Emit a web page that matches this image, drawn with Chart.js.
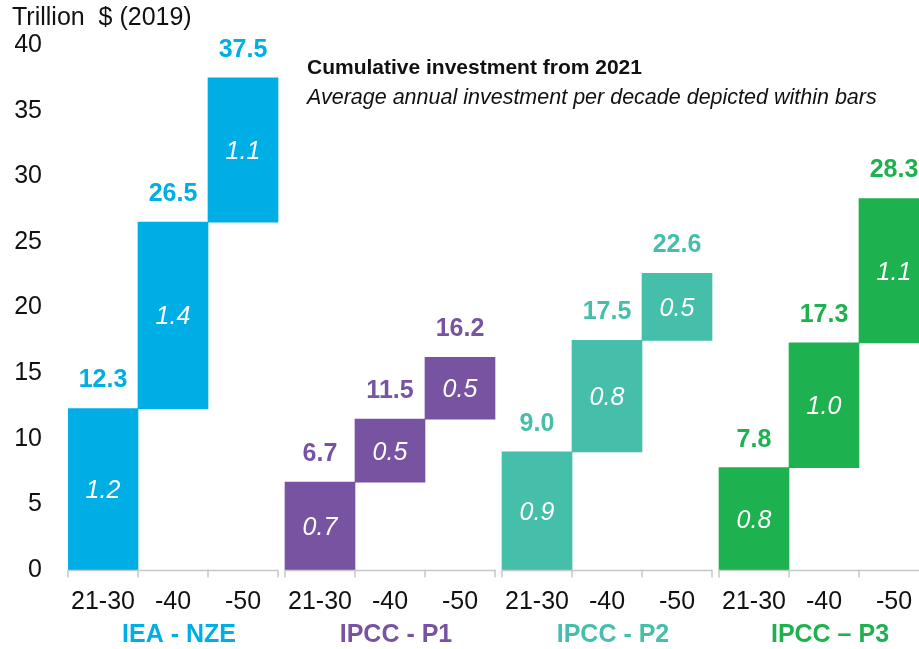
<!DOCTYPE html>
<html lang="en">
<head>
<meta charset="UTF-8">
<title>Cumulative investment from 2021</title>
<script src="https://cdn.jsdelivr.net/npm/chart.js"></script>
<style>
  body { margin: 0; background: #fff; }
  #wrap { width: 919px; height: 649px; position: relative; }
</style>
</head>
<body>
<div id="wrap"><canvas id="grafico"></canvas></div>
<script>
// data
const decadas = ['21-30', '-40', '-50'];
const grupos = ['IEA - NZE', 'IPCC - P1', 'IPCC - P2', 'IPCC \u2013 P3'];
const coresGrupo = ['#00AEE6', '#7853A2', '#45BFAA', '#1EB14F'];

// cumulative investment (trillion $ 2019), end of each decade
const ieaNze = [12.3, 26.5, 37.5];
const ipccP1 = [6.7, 11.5, 16.2];
const ipccP2 = [9.0, 17.5, 22.6];
const ipccP3 = [7.8, 17.3, 28.3];

// average annual investment per decade (inside bars)
const anualIea = [1.2, 1.4, 1.1];
const anualP1 = [0.7, 0.5, 0.5];
const anualP2 = [0.9, 0.8, 0.5];
const anualP3 = [0.8, 1.0, 1.1];

const yMin = 0, yMax = 40, yPasso = 5;

const acumulados = [ieaNze, ipccP1, ipccP2, ipccP3];
const anuais = [anualIea, anualP1, anualP2, anualP3];

// layout: one unit = one bar, small gap between groups
const GAP = 0.1;
const FONTE = "'Liberation Sans', Arial, sans-serif";

let pontos = [];
let cores = [];
let rotulosBarra = [];
let centros = [];
for (let g = 0; g < acumulados.length; g++) {
  let anterior = 0;
  for (let i = 0; i < acumulados[g].length; i++) {
    const xc = g * (3 + GAP) + i + 0.5;
    pontos.push({ x: xc, y: [anterior, acumulados[g][i]] });
    cores.push(coresGrupo[g]);
    rotulosBarra.push({ topo: acumulados[g][i].toFixed(1), dentro: anuais[g][i].toFixed(1), cor: coresGrupo[g] });
    centros.push(xc);
    anterior = acumulados[g][i];
  }
}

// textos, eixo segmentado e nomes dos grupos
const desenhos = {
  id: 'desenhos',
  afterDatasetsDraw(chart) {
    const ctx = chart.ctx;
    const xs = chart.scales.x;
    const area = chart.chartArea;
    const barras = chart.getDatasetMeta(0).data;
    ctx.save();
    ctx.textAlign = 'center';
    ctx.textBaseline = 'middle';
    barras.forEach(function (b, k) {
      const r = rotulosBarra[k];
      ctx.fillStyle = r.cor;
      ctx.font = 'bold 25px ' + FONTE;
      ctx.fillText(r.topo, b.x, b.y - 28);
      ctx.fillStyle = '#ffffff';
      ctx.font = 'italic 25px ' + FONTE;
      ctx.fillText(r.dentro, b.x, (b.y + b.base) / 2 + 2);
    });

    // eixo x em segmentos
    ctx.strokeStyle = '#C8C8C8';
    ctx.lineWidth = 1.5;
    const yEixo = area.bottom + 0.5;
    for (let g = 0; g < grupos.length; g++) {
      const x0 = xs.getPixelForValue(g * (3 + GAP));
      const x1 = Math.min(xs.getPixelForValue(g * (3 + GAP) + 3), chart.width);
      ctx.beginPath();
      ctx.moveTo(x0, yEixo);
      ctx.lineTo(x1, yEixo);
      for (let i = 0; i <= 3; i++) {
        const xt = xs.getPixelForValue(g * (3 + GAP) + i);
        if (xt > chart.width) continue;
        ctx.moveTo(xt, yEixo - 1);
        ctx.lineTo(xt, yEixo + 7);
      }
      ctx.stroke();

      ctx.fillStyle = coresGrupo[g];
      ctx.font = 'bold 25px ' + FONTE;
      ctx.fillText(grupos[g], xs.getPixelForValue(g * (3 + GAP) + 1.5) + 6, 635);
    }

    // titulo do eixo e anotacao
    ctx.textAlign = 'left';
    ctx.fillStyle = '#111111';
    ctx.font = '25px ' + FONTE;
    ctx.fillText('Trillion  $ (2019)', 12, 18);
    ctx.font = 'bold 21px ' + FONTE;
    ctx.fillText('Cumulative investment from 2021', 307, 68);
    ctx.font = 'italic 21.5px ' + FONTE;
    ctx.fillText('Average annual investment per decade depicted within bars', 307, 98);
    ctx.restore();
  }
};

const config = {
  type: 'bar',
  data: {
    datasets: [{
      data: pontos,
      backgroundColor: cores,
      borderWidth: 0,
      barPercentage: 1,
      categoryPercentage: 1
    }]
  },
  options: {
    responsive: true,
    maintainAspectRatio: false,
    animation: false,
    layout: { padding: { top: 45, left: 15, right: 0, bottom: 0 } },
    plugins: {
      legend: { display: false },
      tooltip: { enabled: false }
    },
    scales: {
      x: {
        type: 'linear',
        offset: false,
        min: 0,
        max: 851 / 70,
        grid: { display: false, drawTicks: false },
        border: { display: false },
        afterBuildTicks: function (scale) {
          scale.ticks = centros.map(function (v) { return { value: v }; });
        },
        afterFit: function (scale) {
          scale.height = 79;
          scale.paddingLeft = 0;
          scale.paddingRight = 0;
        },
        ticks: {
          autoSkip: false,
          maxRotation: 0,
          padding: 17,
          color: '#111111',
          font: { family: FONTE, size: 25 },
          callback: function (v, i) { return decadas[i % 3]; }
        }
      },
      y: {
        min: yMin,
        max: yMax,
        grid: { display: false, drawTicks: false },
        border: { display: false },
        afterFit: function (scale) { scale.width = 53; },
        ticks: {
          stepSize: yPasso,
          padding: 26,
          color: '#111111',
          font: { family: FONTE, size: 25 }
        }
      }
    }
  },
  plugins: [desenhos]
};

new Chart(document.getElementById('grafico'), config);
</script>
</body>
</html>
